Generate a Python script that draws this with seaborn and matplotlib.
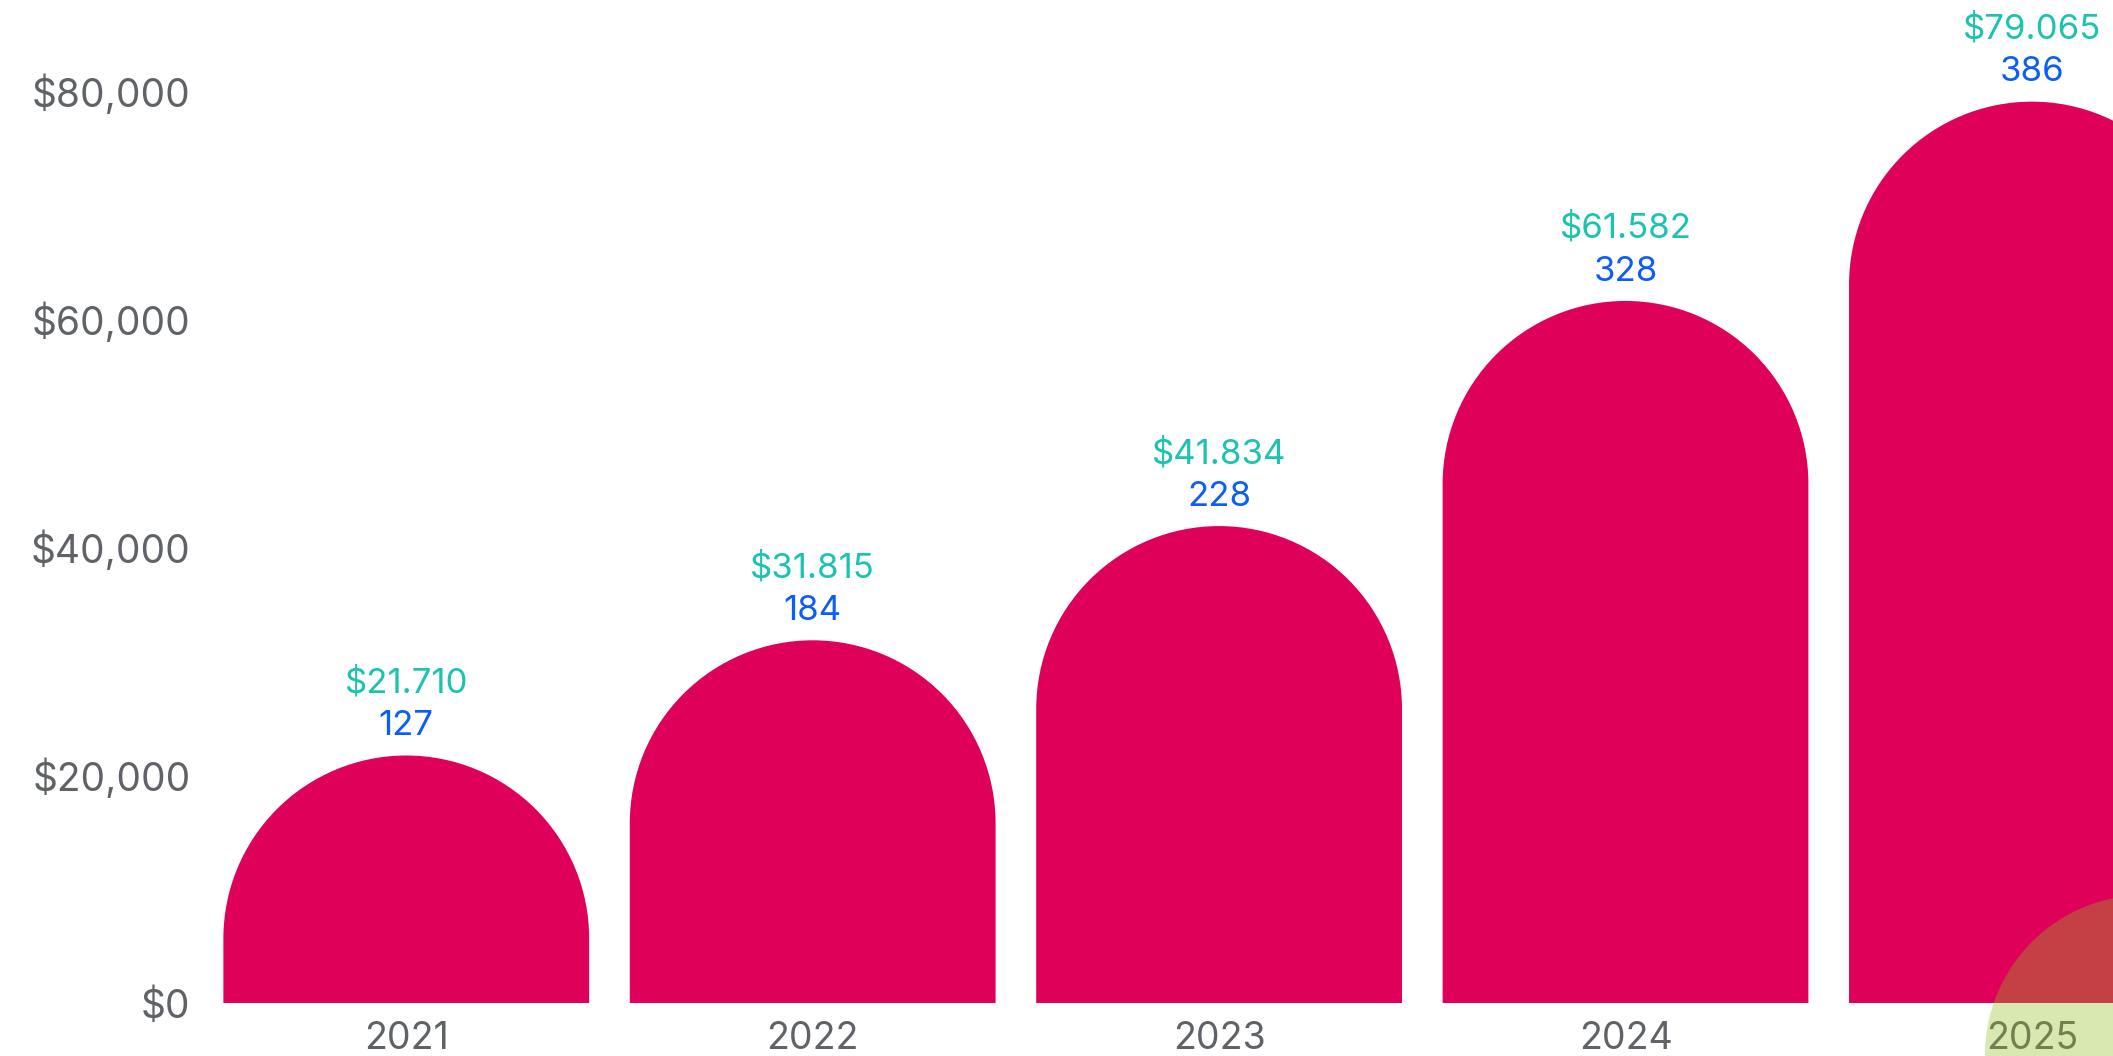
import matplotlib
matplotlib.use('Agg')
import numpy as np
import pandas as pd
import seaborn as sns
import matplotlib.pyplot as plt
from matplotlib.patches import Circle, PathPatch
from matplotlib.path import Path
from matplotlib.ticker import FuncFormatter

# valores
anos = ['2021', '2022', '2023', '2024', '2025']
receita = [21710, 31815, 41834, 61582, 79065]
quantidade = [127, 184, 228, 328, 386]
y_ticks = [0, 20000, 40000, 60000, 80000]

df = pd.DataFrame({'ano': anos, 'receita': receita, 'qtd': quantidade})

cor_barra = '#DF0059'
cor_verde = '#1BC3B0'
cor_azul = '#0D5EF5'
cor_texto = '#5F6368'

sns.set_style('white')
plt.rcParams['font.family'] = ['Inter', 'DejaVu Sans']

fig = plt.figure(figsize=(21.13, 10.56), dpi=100)
ax = fig.add_axes([0.0961, 0.0502, 0.9617, 0.95])

sns.barplot(x='ano', y='receita', data=df, color=cor_barra, saturation=1,
            width=0.9, linewidth=0, edgecolor='none', ax=ax)
ax.set_xlim(-0.5, 4.5)
ax.set_ylim(0, 88000)

# topo arredondado: retângulo + semicírculo (em pixels) num único path
fig.canvas.draw()
px_por_y = ax.bbox.height / 88000
for p, v, q in zip(ax.patches, receita, quantidade):
    x0, w = p.get_x(), p.get_width()
    w_px = ax.transData.transform((x0 + w, 0))[0] - ax.transData.transform((x0, 0))[0]
    r_y = (w_px / 2) / px_por_y
    cx, base = x0 + w / 2, v - r_y
    arco = Path.arc(0, 180)
    verts = np.column_stack([cx + arco.vertices[:, 0] * w / 2,
                             base + arco.vertices[:, 1] * r_y])
    verts = np.vstack([[x0, 0], [x0 + w, 0], verts, [x0, 0]])
    codes = [Path.MOVETO, Path.LINETO] + [Path.LINETO] + list(arco.codes[1:]) + [Path.CLOSEPOLY]
    p.set_visible(False)
    ax.add_patch(PathPatch(Path(verts, codes), facecolor=cor_barra,
                           edgecolor='none', lw=0))
    ax.annotate(f'${v:,}'.replace(',', '.'), (cx, v), xytext=(0, 52),
                textcoords='offset points', ha='center', va='center',
                fontsize=25, color=cor_verde)
    ax.annotate(str(q), (cx, v), xytext=(0, 21),
                textcoords='offset points', ha='center', va='center',
                fontsize=25, color=cor_azul)

ax.set_yticks(y_ticks)
ax.yaxis.set_major_formatter(FuncFormatter(lambda v, _: f'${v:,.0f}'))
ax.tick_params(axis='y', length=0, pad=9, labelsize=28, labelcolor=cor_texto)
ax.tick_params(axis='x', length=0, pad=13, labelsize=27, labelcolor=cor_texto)
ax.set_xlabel('')
ax.set_ylabel('')
sns.despine(ax=ax, left=True, bottom=True)

# círculo decorativo no canto inferior direito
fig.add_artist(Circle((21.45, 0.01), 1.6, transform=fig.dpi_scale_trans,
                      color='#90BC1D', alpha=0.34, lw=0, zorder=5))

fig.savefig('out.png', dpi=100)
